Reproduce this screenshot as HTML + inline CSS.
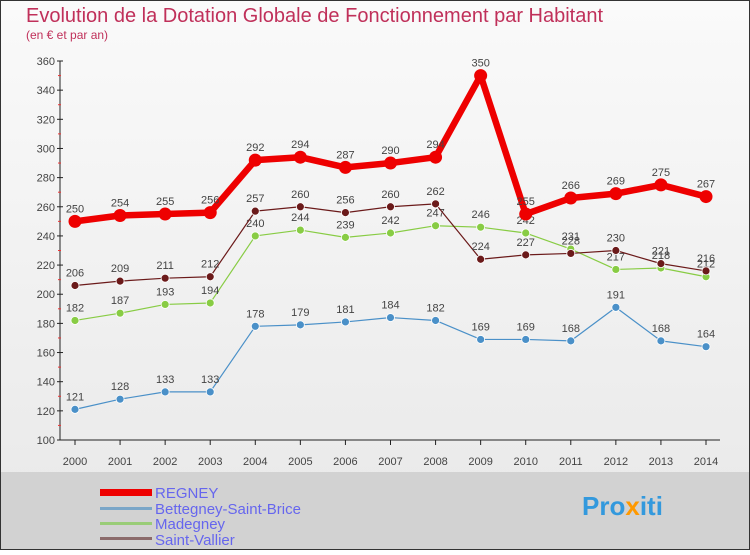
<!DOCTYPE html>
<html><head><meta charset="utf-8"><style>
body{margin:0;width:750px;height:550px;overflow:hidden;font-family:"Liberation Sans",sans-serif}
</style></head><body>
<svg width="750" height="550" xmlns="http://www.w3.org/2000/svg">
<defs><linearGradient id="bg" x1="0" y1="0" x2="0" y2="1"><stop offset="0" stop-color="#fafafa"/><stop offset="1" stop-color="#e8e8e8"/></linearGradient></defs>
<rect x="0" y="0" width="750" height="550" fill="url(#bg)"/>
<rect x="0" y="472" width="750" height="78" fill="#d2d2d2"/>
<rect x="0.5" y="0.5" width="749" height="549" fill="none" stroke="#333"/>
<text x="26" y="22" font-size="20" fill="#c0305a">Evolution de la Dotation Globale de Fonctionnement par Habitant</text>
<text x="26" y="39" font-size="12" fill="#c0305a">(en € et par an)</text>
<g id="axes"></g><g id="series"></g>
<g>
<rect x="100" y="489" width="52" height="7" fill="#e00"/>
<text x="155" y="498" font-size="15" fill="#6666ee">REGNEY</text>
<rect x="100" y="507" width="52" height="3" fill="#7aa6c8"/>
<text x="155" y="514" font-size="15" fill="#6666ee">Bettegney-Saint-Brice</text>
<rect x="100" y="522" width="52" height="3" fill="#99cc77"/>
<text x="155" y="529" font-size="15" fill="#6666ee">Madegney</text>
<rect x="100" y="537" width="52" height="3" fill="#8b6b6b"/>
<text x="155" y="545" font-size="15" fill="#6666ee">Saint-Vallier</text>
</g>
<text x="582" y="515" font-size="26" font-weight="bold" fill="#3399dd">Pro<tspan fill="#ff9900">x</tspan>iti</text>
</svg>
<script>
const years=["2000","2001","2002","2003","2004","2005","2006","2007","2008","2009","2010","2011","2012","2013","2014"];
const yTicks=[100,120,140,160,180,200,220,240,260,280,300,320,340,360];
const regney=[250,254,255,256,292,294,287,290,294,350,255,266,269,275,267];
const bettegney=[121,128,133,133,178,179,181,184,182,169,169,168,191,168,164];
const madegney=[182,187,193,194,240,244,239,242,247,246,242,231,217,218,212];
const saintVallier=[206,209,211,212,257,260,256,260,262,224,227,228,230,221,216];
const NS="http://www.w3.org/2000/svg";
const x=i=>75+i*(631/14);
const y=v=>440-(v-100)*379/260;
function mk(t,a,p){const e=document.createElementNS(NS,t);for(const k in a)e.setAttribute(k,a[k]);p.appendChild(e);return e;}
const ax=document.getElementById('axes');
const yl=mk('line',{x1:60,y1:61,x2:60,y2:440,stroke:'#222'},ax);


const xl=mk('line',{x1:60,y1:440,x2:720,y2:440,stroke:'#222'},ax);


yTicks.forEach((v,k)=>{
 mk('line',{x1:57,y1:y(v),x2:63,y2:y(v),stroke:'#222'},ax);
 if(k<yTicks.length-1) mk('line',{x1:58,y1:y(v+10),x2:61,y2:y(v+10),stroke:'#e33'},ax);
 const t=mk('text',{x:55,y:y(v)+4,'font-size':11,'text-anchor':'end',fill:'#444'},ax);t.textContent=v;
 
 
});
years.forEach((yr,i)=>{
 mk('line',{x1:x(i),y1:440,x2:x(i),y2:445,stroke:'#222'},ax);
 const t=mk('text',{x:x(i),y:465,'font-size':11,'text-anchor':'middle',fill:'#444'},ax);t.textContent=yr;
 
 
});
const sg=document.getElementById('series');
function series(d,color,w,r,name){
 const g=mk('g',{},sg);
 
 
 const pl=mk('polyline',{points:d.map((v,i)=>x(i)+','+y(v)).join(' '),fill:'none',stroke:color,'stroke-width':w,'stroke-linejoin':'round'},g);
 
 
 d.forEach((v,i)=>{
  const c=mk('circle',{cx:x(i),cy:y(v),r:r,fill:color,stroke:'#fff','stroke-width':r>5?0:0.8},g);
  
  
  const t=mk('text',{x:x(i),y:y(v)-9,'font-size':11,'text-anchor':'middle',fill:'#444'},g);t.textContent=v;
  
  
 });
}
series(bettegney,'#4a90c8',1.2,4,'bettegney');
series(madegney,'#88cc44',1.2,4,'madegney');
series(saintVallier,'#6b1a1a',1.2,4,'saint-vallier');
series(regney,'#ee0000',6.5,6.5,'regney');
</script>
</body></html>
